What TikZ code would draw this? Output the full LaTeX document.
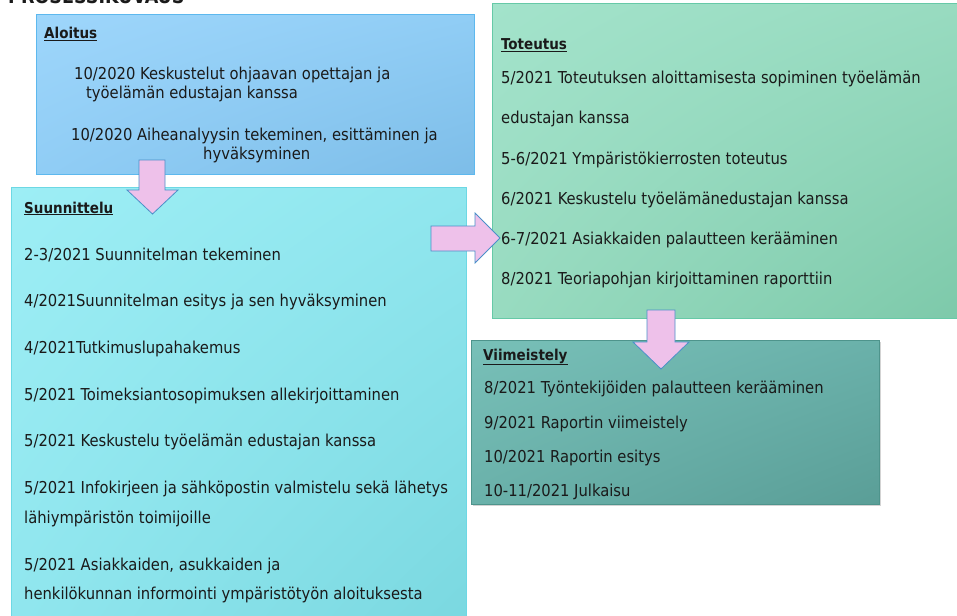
\documentclass[tikz,border=0pt]{standalone}
\usepackage{fontspec}
\setmainfont{DejaVu Sans Condensed}
\usetikzlibrary{shadows,shadings}

\definecolor{aloitustop}{HTML}{9ED6FB}
\definecolor{aloitusmid}{HTML}{90CDF5}
\definecolor{aloitusbot}{HTML}{7DBDE8}
\definecolor{aloitusline}{HTML}{5DB8EE}
\definecolor{suunnittop}{HTML}{9DEEF5}
\definecolor{suunnitmid}{HTML}{90E6EE}
\definecolor{suunnitbot}{HTML}{7AD8E0}
\definecolor{suunnitline}{HTML}{6DD8E4}
\definecolor{toteuttop}{HTML}{A3E3CB}
\definecolor{toteutmid}{HTML}{98DBC0}
\definecolor{toteutbot}{HTML}{7DC9AA}
\definecolor{toteutline}{HTML}{66C9A7}
\definecolor{viimeistop}{HTML}{78C0B8}
\definecolor{viimeismid}{HTML}{6AB1AA}
\definecolor{viimeisbot}{HTML}{5A9E97}
\definecolor{viimeisline}{HTML}{4E948C}
\definecolor{arrowpink}{HTML}{EEC1EA}
\definecolor{arrowblue}{HTML}{4A90C8}
\definecolor{textgray}{HTML}{1A1A1A}

\tikzset{
  phasebox/.style={draw, line width=0.8pt, anchor=north west, inner sep=0pt},
  itemtext/.style={anchor=base west, inner sep=0pt, text=textgray,
    font=\fontsize{16.4}{18}\selectfont},
  headtext/.style={anchor=base west, inner sep=0pt, text=textgray,
    font=\fontsize{15}{18}\selectfont\bfseries},
  blockarrow/.style={fill=arrowpink, draw=arrowblue, line width=0.8pt, line join=miter}
}

\begin{document}
\begin{tikzpicture}[x=1pt, y=-1pt]
        \useasboundingbox (0,0) rectangle (957,615);
        % title, cut by the top edge
        \node[anchor=base west, inner sep=0pt, text=textgray,
          font=\fontsize{19.5}{20}\selectfont\bfseries] (title) at (8,4) {PROSESSIKUVAUS};
        % the four phase boxes
        \node[phasebox, draw=aloitusline, minimum width=438pt, minimum height=160pt,
          upper left=aloitustop, upper right=aloitusmid, lower left=aloitusmid,
          lower right=aloitusbot] (aloitus) at (36,14) {};
        \node[phasebox, draw=suunnitline, minimum width=455pt, minimum height=440pt,
          upper left=suunnittop, upper right=suunnitmid, lower left=suunnitmid,
          lower right=suunnitbot] (suunnittelu) at (11,187) {};
        \node[phasebox, draw=toteutline, minimum width=470pt, minimum height=315pt,
          upper left=toteuttop, upper right=toteutmid, lower left=toteutmid,
          lower right=toteutbot] (toteutus) at (492,3) {};
        \node[phasebox, draw=viimeisline, minimum width=408pt, minimum height=164pt,
          upper left=viimeistop, upper right=viimeismid, lower left=viimeismid,
          lower right=viimeisbot,
          drop shadow={opacity=0.35, shadow xshift=1.5pt, shadow yshift=-2pt}] (viimeistely) at (471,340) {};
        % coordinates for the block arrows
        \coordinate (downtip)    at (152.5,214);
        \coordinate (righttip)   at (500,238);
        \coordinate (lasttip)    at (661,369);
        % drawing the block arrows
        \draw[blockarrow] (139,160) -- (165,160) -- (165,190) -- (178,190) -- (downtip)
          -- (127,190) -- (139,190) -- cycle;
        \draw[blockarrow] (431,226) -- (475,226) -- (475,213) -- (righttip)
          -- (475,263) -- (475,251) -- (431,251) -- cycle;
        \draw[blockarrow] (647,310) -- (675,310) -- (675,342) -- (689,342) -- (lasttip)
          -- (633,342) -- (647,342) -- cycle;
        % Aloitus
        \node[headtext] (aloitushead) at (44,39) {\underline{Aloitus}};
        \node[itemtext] (aloitus1a) at (74,80)  {10/2020 Keskustelut ohjaavan opettajan ja};
        \node[itemtext] (aloitus1b) at (86,99)  {työelämän edustajan kanssa};
        \node[itemtext] (aloitus2a) at (71,140) {10/2020 Aiheanalyysin tekeminen, esittäminen ja};
        \node[itemtext] (aloitus2b) at (203,159) {hyväksyminen};
        % Suunnittelu
        \node[headtext] (suunnithead) at (24,213) {\underline{Suunnittelu}};
        \node[itemtext] (suunnit1)  at (24,260)   {2-3/2021 Suunnitelman tekeminen};
        \node[itemtext] (suunnit2)  at (24,306.7) {4/2021Suunnitelman esitys ja sen hyväksyminen};
        \node[itemtext] (suunnit3)  at (24,353.3) {4/2021Tutkimuslupahakemus};
        \node[itemtext] (suunnit4)  at (24,400)   {5/2021 Toimeksiantosopimuksen allekirjoittaminen};
        \node[itemtext] (suunnit5)  at (24,446.7) {5/2021 Keskustelu työelämän edustajan kanssa};
        \node[itemtext] (suunnit6a) at (24,493.3) {5/2021 Infokirjeen ja sähköpostin valmistelu sekä lähetys};
        \node[itemtext] (suunnit6b) at (24,523.3) {lähiympäristön toimijoille};
        \node[itemtext] (suunnit7a) at (24,570)   {5/2021 Asiakkaiden, asukkaiden ja};
        \node[itemtext] (suunnit7b) at (24,599.3) {henkilökunnan informointi ympäristötyön aloituksesta};
        % Toteutus
        \node[headtext] (toteuthead) at (501,50) {\underline{Toteutus}};
        \node[itemtext] (toteut1a) at (501,84)  {5/2021 Toteutuksen aloittamisesta sopiminen työelämän};
        \node[itemtext] (toteut1b) at (501,124) {edustajan kanssa};
        \node[itemtext] (toteut2)  at (501,164) {5-6/2021 Ympäristökierrosten toteutus};
        \node[itemtext] (toteut3)  at (501,204) {6/2021 Keskustelu työelämänedustajan kanssa};
        \node[itemtext] (toteut4)  at (501,244) {6-7/2021 Asiakkaiden palautteen kerääminen};
        \node[itemtext] (toteut5)  at (501,284) {8/2021 Teoriapohjan kirjoittaminen raporttiin};
        % Viimeistely
        \node[headtext] (viimeishead) at (483,360) {\underline{Viimeistely}};
        \node[itemtext] (viimeis1) at (484,393.3) {8/2021 Työntekijöiden palautteen kerääminen};
        \node[itemtext] (viimeis2) at (484,428.3) {9/2021 Raportin viimeistely};
        \node[itemtext] (viimeis3) at (484,462.7) {10/2021 Raportin esitys};
        \node[itemtext] (viimeis4) at (484,496.7) {10-11/2021 Julkaisu};
      \end{tikzpicture}
\end{document}
